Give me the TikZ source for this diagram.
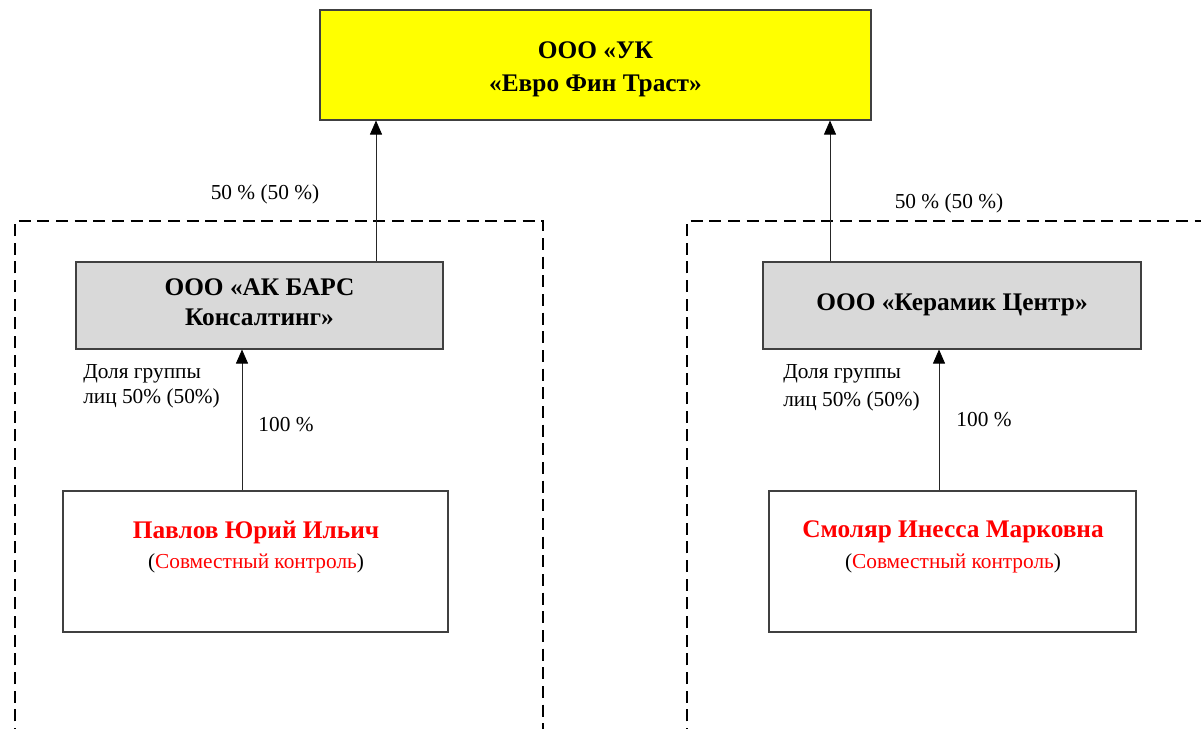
\documentclass[tikz,border=0pt]{standalone}
\usepackage{fontspec}
\setmainfont{Liberation Serif}
\usetikzlibrary{arrows.meta}
\definecolor{boxline}{HTML}{404040}
\definecolor{grayfill}{HTML}{D9D9D9}
\definecolor{yel}{HTML}{FFFF00}
\definecolor{redtxt}{HTML}{FF0000}
\tikzset{
  box/.style={draw=boxline, line width=0.8pt, inner sep=0pt, align=center},
  bold/.style={font=\fontsize{19}{23}\selectfont\bfseries, inner sep=0pt, align=center},
  lbl/.style={font=\fontsize{16}{19}\selectfont, inner sep=0pt, align=left},
  arr/.style={draw=black!85, line width=0.6pt, -{Triangle[length=10.5pt,width=9pt,color=black]}},
  group/.style={draw=black, line width=2.2pt, dash pattern=on 9pt off 5pt},
}
\begin{document}
\begin{tikzpicture}[x=0.75pt,y=-0.75pt]
\useasboundingbox (0,0) rectangle (1201,728);
\clip (0,0) rectangle (1201,728);
\fill[white] (0,0) rectangle (1201,728);
% group frames
\draw[group] (15,740) -- (15,221) -- (543,221) -- (543,740);
\draw[group] (687,740) -- (687,221) -- (1215,221);
% boxes
\node[box, fill=yel, minimum width=413.25pt, minimum height=82.5pt] (uk) at (595.5,65) {};
\node[bold, font=\fontsize{19}{24.75}\selectfont\bfseries] (ukt) at (595.5,69) {ООО «УК\\«Евро Фин Траст»};
\node[box, fill=grayfill, minimum width=275.25pt, minimum height=65.25pt] (ak) at (259.5,305.5) {};
\node[bold, font=\fontsize{19}{22.5}\selectfont\bfseries] (akt) at (259.5,302) {ООО «АК БАРС\\Консалтинг»};
\node[box, fill=grayfill, minimum width=283.5pt, minimum height=65.25pt] (kc) at (952,305.5) {};
\node[bold] (kct) at (952,305) {ООО «Керамик Центр»};
\node[box, fill=white, minimum width=288.75pt, minimum height=105.75pt] (pv) at (255.5,561.5) {};
\node[box, fill=white, minimum width=275.25pt, minimum height=105.75pt] (sm) at (952.5,561.5) {};
% person texts
\node[bold, text=redtxt] (pvn) at (256,532) {Павлов Юрий Ильич};
\node[lbl, align=center] (pvc) at (256,563) {(\textcolor{redtxt}{Совместный контроль})};
\node[bold, text=redtxt] (smn) at (953,532) {Смоляр Инесса Марковна};
\node[lbl, align=center] (smc) at (953,563) {(\textcolor{redtxt}{Совместный контроль})};
% connectors
\draw[arr] (ak.north -| 376,0) -- (uk.south -| 376,0);
\draw[arr] (kc.north -| 830,0) -- (uk.south -| 830,0);
\draw[arr] (pv.north -| 242,0) -- (ak.south -| 242,0);
\draw[arr] (sm.north -| 939,0) -- (kc.south -| 939,0);
% labels
\node[lbl] (l1) at (265,194) {50 \% (50 \%)};
\node[lbl] (l2) at (949,203) {50 \% (50 \%)};
\node[lbl, anchor=west, font=\fontsize{16}{18.75}\selectfont] (d1) at (83,386) {Доля группы\\лиц 50\% (50\%)};
\node[lbl, anchor=west, font=\fontsize{16}{21}\selectfont] (d2) at (783,388) {Доля группы\\лиц 50\% (50\%)};
\node[lbl] (p1) at (286,425) {100 \%};
\node[lbl] (p2) at (984,420) {100 \%};
\end{tikzpicture}
\end{document}
